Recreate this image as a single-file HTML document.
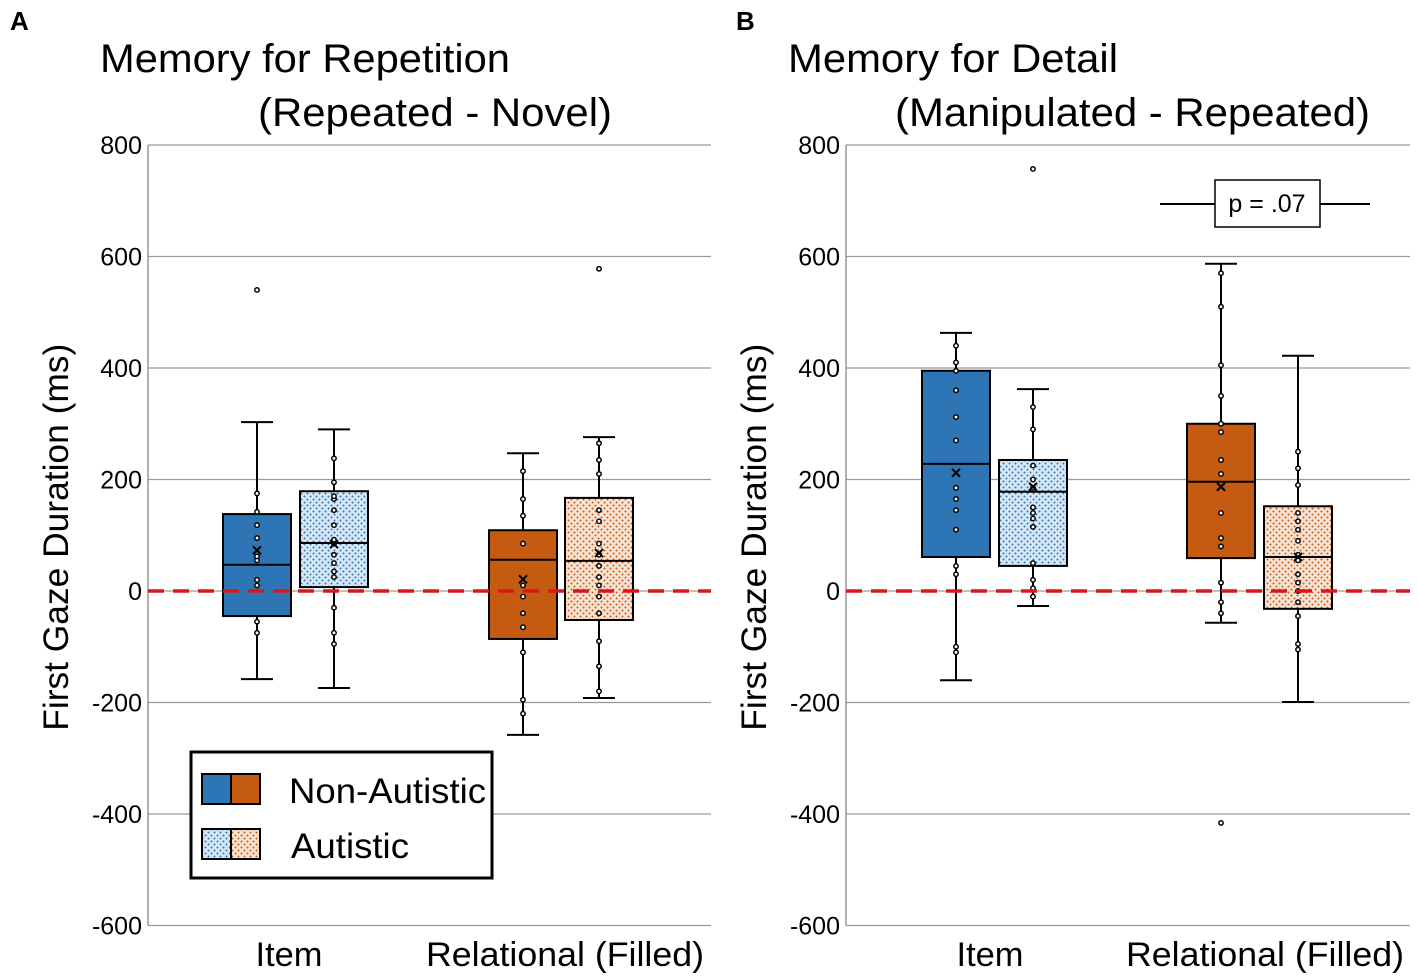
<!DOCTYPE html>
<html><head><meta charset="utf-8"><style>
body{margin:0;background:#fff}
svg{display:block;font-family:"Liberation Sans",sans-serif}
</style></head><body>
<svg id="chart" width="1418" height="979" viewBox="0 0 1418 979">
<defs>
<pattern id="patB" width="6" height="6" patternUnits="userSpaceOnUse"><rect width="6" height="6" fill="#d6e8f7"/><circle cx="1.5" cy="1.5" r="1" fill="#2e75b6"/><circle cx="4.5" cy="4.5" r="1" fill="#2e75b6"/></pattern>
<pattern id="patO" width="6" height="6" patternUnits="userSpaceOnUse"><rect width="6" height="6" fill="#fbe3d4"/><circle cx="1.5" cy="1.5" r="1" fill="#c55a11"/><circle cx="4.5" cy="4.5" r="1" fill="#c55a11"/></pattern>
</defs>
<text x="10" y="30" font-size="26" font-weight="bold">A</text>
<text x="736" y="30" font-size="26" font-weight="bold">B</text>
<text x="100" y="72" font-size="40" textLength="410" lengthAdjust="spacingAndGlyphs">Memory for Repetition</text>
<text x="258" y="126" font-size="40" textLength="354" lengthAdjust="spacingAndGlyphs">(Repeated - Novel)</text>
<text x="788" y="72" font-size="40" textLength="330" lengthAdjust="spacingAndGlyphs">Memory for Detail</text>
<text x="895" y="126" font-size="40" textLength="475" lengthAdjust="spacingAndGlyphs">(Manipulated - Repeated)</text>
<g id="pa"></g><g id="pb"></g>
<g>
<rect x="191" y="752" width="301" height="126" fill="#fff" stroke="#000" stroke-width="3"/>
<rect x="202" y="774" width="29" height="30" fill="#2e75b6" stroke="#000" stroke-width="2"/>
<rect x="231" y="774" width="29" height="30" fill="#c55a11" stroke="#000" stroke-width="2"/>
<rect x="202" y="829" width="29" height="30" fill="url(#patB)" stroke="#000" stroke-width="2"/>
<rect x="231" y="829" width="29" height="30" fill="url(#patO)" stroke="#000" stroke-width="2"/>
<text x="289" y="803" font-size="35" textLength="197" lengthAdjust="spacingAndGlyphs">Non-Autistic</text>
<text x="291" y="858" font-size="35" textLength="118" lengthAdjust="spacingAndGlyphs">Autistic</text>
</g>
<g>
<line x1="1160" y1="204" x2="1370" y2="204" stroke="#000" stroke-width="2"/>
<rect x="1215" y="180" width="105" height="47" fill="#fff" stroke="#000" stroke-width="1.5"/>
<text x="1267" y="212" font-size="25" text-anchor="middle">p = .07</text>
</g>
</svg>
<script>
const ticks=[800,600,400,200,0,-200,-400,-600];
const groups=["Item","Relational (Filled)"];
// [whiskerLow, q1, median, q3, whiskerHigh, mean]
const statsA=[[-158,-45,47,138,303,73],[-174,7,86,179,290,84],[-258,-86,56,109,247,21],[-192,-52,54,167,276,68]];
const statsB=[[-160,61,228,395,463,212],[-27,45,178,235,362,187],[-57,59,196,300,587,187],[-199,-32,61,152,422,61]];
const outA=[[540],[],[],[578]];
const outB=[[],[757],[-416],[]];
const ptsA=[[-55,-75,10,20,55,62,95,118,142,175],[-95,-75,-30,25,35,50,65,85,92,118,145,165,170,195,238],[-220,-195,-110,-65,-40,-10,10,85,135,165,215],[-180,-135,-90,-40,-10,10,25,45,65,85,125,145,210,235,265]];
const ptsB=[[-110,-100,30,45,110,145,165,185,270,312,360,395,410,440],[-10,5,20,50,115,130,140,150,185,200,225,290,330],[-40,-20,15,80,95,140,210,235,285,300,350,405,510,570],[-105,-95,-45,-20,0,15,30,55,65,90,110,125,140,190,220,250]];
const colors=["#2e75b6","url(#patB)","#c55a11","url(#patO)"];
const NS="http://www.w3.org/2000/svg";
function mk(p,t,a){const e=document.createElementNS(NS,t);for(const k in a)e.setAttribute(k,a[k]);p.appendChild(e);return e;}
function panel(g,x0,x1,stats,outs,pts,centers,labelXs,labelWs,tag){
 const y=v=>591-(v)*0.5575;
 ticks.forEach(t=>{const l=mk(g,"line",{x1:x0,x2:x1,y1:y(t),y2:y(t),stroke:"#999","stroke-width":1.3});
  
  
  const tx=mk(g,"text",{x:x0-6,y:y(t)+9,"font-size":25,"text-anchor":"end"});tx.textContent=t;
  
  });
 mk(g,"line",{x1:x0,x2:x0,y1:y(800),y2:y(-600),stroke:"#888","stroke-width":1.3});
 const yt=mk(g,"text",{transform:`translate(${x0-80},${y(100)+2}) rotate(-90)`,"font-size":35,"text-anchor":"middle",textLength:387,lengthAdjust:"spacingAndGlyphs"});yt.textContent="First Gaze Duration (ms)";
 
 
 groups.forEach((n,i)=>{const t=mk(g,"text",{x:labelXs[i],y:966,"font-size":34,"text-anchor":"middle",textLength:labelWs[i],lengthAdjust:"spacingAndGlyphs"});t.textContent=n;
  
  });
 stats.forEach((s,i)=>{const c=centers[i],w=34;
  const bg=mk(g,"g",{});
  
  
  mk(bg,"line",{x1:c,x2:c,y1:y(s[0]),y2:y(s[4]),stroke:"#000","stroke-width":2});
  mk(bg,"line",{x1:c-16,x2:c+16,y1:y(s[0]),y2:y(s[0]),stroke:"#000","stroke-width":2});
  mk(bg,"line",{x1:c-16,x2:c+16,y1:y(s[4]),y2:y(s[4]),stroke:"#000","stroke-width":2});
  mk(bg,"rect",{x:c-w,y:y(s[3]),width:2*w,height:y(s[1])-y(s[3]),fill:colors[i],stroke:"#000","stroke-width":2});
  mk(bg,"line",{x1:c-w,x2:c+w,y1:y(s[2]),y2:y(s[2]),stroke:"#000","stroke-width":2});
  pts[i].forEach(v=>mk(bg,"circle",{cx:c,cy:y(v),r:2.2,fill:"#fff",stroke:"#000","stroke-width":1.5}));
  outs[i].forEach(v=>mk(bg,"circle",{cx:c,cy:y(v),r:2.2,fill:"#fff",stroke:"#000","stroke-width":1.5}));
  const m=y(s[5]);
  mk(bg,"path",{d:`M${c-4} ${m-4}L${c+4} ${m+4}M${c+4} ${m-4}L${c-4} ${m+4}`,stroke:"#000","stroke-width":2});
 });
 const z=mk(g,"line",{x1:x0,x2:x1,y1:y(0),y2:y(0),stroke:"#d9181c","stroke-width":3.5,"stroke-dasharray":"16,9"});
 
 
}
panel(document.getElementById("pa"),148,711,statsA,outA,ptsA,[257,334,523,599],[289,565],[67,278],"a");
panel(document.getElementById("pb"),846,1410,statsB,outB,ptsB,[956,1033,1221,1298],[990,1265],[67,278],"b");
</script>
</body></html>
